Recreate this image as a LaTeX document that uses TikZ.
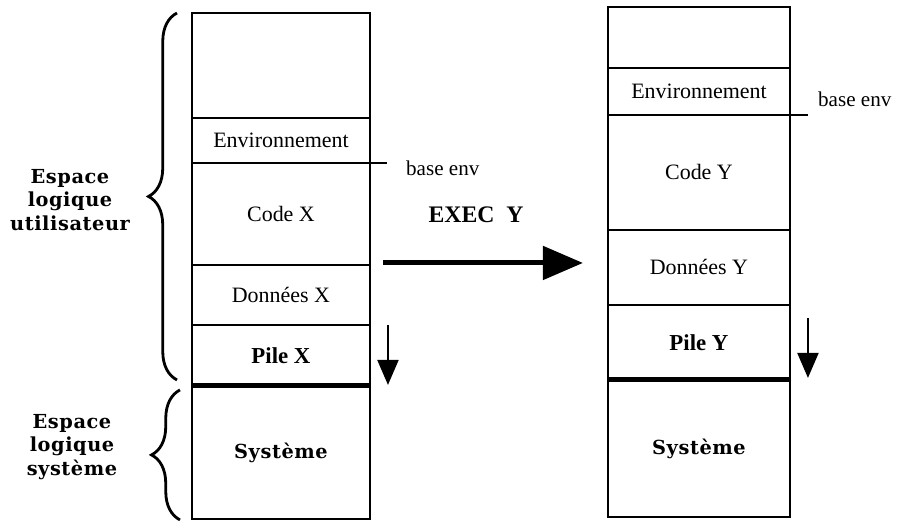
\documentclass[tikz,border=0pt]{standalone}
\usepackage{fontspec}
\setmainfont{Liberation Serif}
\newfontfamily\slabfont[LetterSpace=3]{DejaVu Serif}
\usetikzlibrary{positioning,calc,arrows.meta,decorations.pathreplacing}

\tikzset{
  seg/.style={draw, line width=1.5pt, outer sep=0pt, inner sep=0pt,
    font=\fontsize{12.5}{14}\selectfont},
  segX/.style={seg, minimum width=3.56cm},
  segY/.style={seg, minimum width=3.64cm},
  pilefont/.style={font=\fontsize{13}{15}\selectfont\bfseries},
  sysfont/.style={font=\slabfont\bfseries\fontsize{11}{13}\selectfont},
  side/.style={align=center, font=\slabfont\bfseries\fontsize{11}{13.5}\selectfont},
  brc/.style={decorate, decoration={brace, amplitude=0.57cm}, line width=1.6pt},
  sepline/.style={line width=2.8pt},
  tick/.style={line width=1.3pt},
  downarr/.style={line width=1.2pt, -{Triangle[length=0.5cm, width=0.42cm]}},
  execarr/.style={line width=2.8pt, -{Triangle[length=0.8cm, width=0.66cm]}}
}

\begin{document}
\begin{tikzpicture}[x=0.02cm, y=-0.02cm]
  \useasboundingbox (0,0) rectangle (904,522);
  \node[segX, minimum height=2.10cm, anchor=north west] (topX) at (192,13) {};
  \node[segX, minimum height=0.90cm, below=0pt of topX] (envX) {Environnement};
  \node[segX, minimum height=2.04cm, below=0pt of envX] (codeX) {Code X};
  \node[segX, minimum height=1.20cm, below=0pt of codeX] (donX) {Données X};
  \node[segX, pilefont, minimum height=1.22cm, below=0pt of donX] (pileX) {Pile X};
  \node[segX, sysfont, minimum height=2.66cm, below=0pt of pileX] (sysX) {Système};

  \node[segY, minimum height=1.22cm, anchor=north west] (topY) at (608,7) {};
  \node[segY, minimum height=0.94cm, below=0pt of topY] (envY) {Environnement};
  \node[segY, minimum height=2.30cm, below=0pt of envY] (codeY) {Code Y};
  \node[segY, minimum height=1.50cm, below=0pt of codeY] (donY) {Données Y};
  \node[segY, pilefont, minimum height=1.50cm, below=0pt of donY] (pileY) {Pile Y};
  \node[segY, sysfont, minimum height=2.74cm, below=0pt of pileY] (sysY) {Système};

  \draw[sepline] (pileX.south west) -- (pileX.south east);
  \draw[sepline] (pileY.south west) -- (pileY.south east);

  \node[side] (userlbl) at (70,200) {Espace\\logique\\utilisateur};
  \node[side] (syslbl) at (72,447) {Espace\\logique\\système};
  \draw[brc] ($(pileX.south west)+(-15,-6)$) -- ($(topX.north west)+(-15,0)$);
  \draw[brc] ($(sysX.south west)+(-12,1)$) -- ($(pileX.south west)+(-12,4)$);

  \draw[tick] (envX.south east) -- ++(17,0) coordinate (baseX);
  \node[anchor=west, font=\fontsize{12}{14}\selectfont] (baseXlbl) at ($(baseX)+(13,5)$) {base env};
  \draw[tick] (envY.south east) -- ++(18,0) coordinate (baseY);
  \node[anchor=west, font=\fontsize{12}{14}\selectfont] (baseYlbl) at ($(baseY)+(4,-16)$) {base env};

  \draw[downarr] ($(pileX.north east)+(18,0)$) -- ($(pileX.south east)+(18,-1)$);
  \draw[downarr] ($(pileY.north east)+(18,13)$) -- ($(pileY.south east)+(18,-2)$);

  \node[font=\fontsize{13.5}{15}\selectfont\bfseries] (exec) at (476,215) {EXEC\enspace Y};
  \coordinate (execS) at ($(codeX.south east)+(13,-2)$);
  \coordinate (execE) at ($(codeX.south east)+(213,-2)$);
  \draw[execarr] (execS) -- (execE);
\end{tikzpicture}
\end{document}
